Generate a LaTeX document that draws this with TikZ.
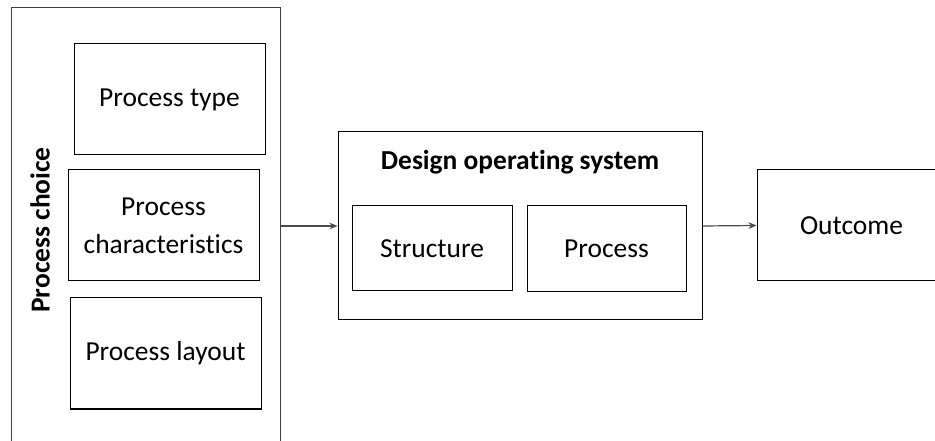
\documentclass[tikz,border=0pt]{standalone}
\usepackage{fontspec}
\setmainfont{Carlito}[Ligatures={NoCommon}]
\usetikzlibrary{arrows.meta}

\tikzset{
  box/.style={draw, rectangle, line width=0.75pt, align=center, inner sep=0pt,
    font=\fontsize{20.6}{28.5}\selectfont},
  link/.style={draw=black!70, line width=0.9pt, -{Stealth[length=6pt,width=5pt]}}
}

\begin{document}
\begin{tikzpicture}[x=0.75pt, y=-0.75pt]
        \clip (0,0) rectangle (935,441);

        % Nodi
        \node[box, draw=black!75, minimum width=269*0.75pt, minimum height=452*0.75pt] (choice) at (145.5,234) {};
        \node[font=\fontsize{20.6}{24}\selectfont\bfseries, rotate=90] (choicelabel) at (40,230) {Process choice};
        \node[box, minimum width=191*0.75pt, minimum height=111*0.75pt] (type) at (169.5,99.5) {Process type};
        \node[box, minimum width=191*0.75pt, minimum height=111*0.75pt] (char) at (163.5,225.5) {Process\\characteristics};
        \node[box, minimum width=191*0.75pt, minimum height=111*0.75pt] (layout) at (165.5,353.5) {Process layout};

        \node[box, minimum width=364*0.75pt, minimum height=188*0.75pt] (design) at (520,226) {};
        \node[font=\fontsize{20.6}{24}\selectfont\bfseries] (designlabel) at (520,162) {Design operating system};
        \node[box, minimum width=160*0.75pt, minimum height=85*0.75pt] (structure) at (432,248.5) {Structure};
        \node[box, minimum width=159*0.75pt, minimum height=86*0.75pt] (process) at (606.5,249) {Process};

        \node[box, minimum width=189*0.75pt, minimum height=111*0.75pt] (outcome) at (851.5,225.5) {Outcome};

        % Frecce
        \draw[link] (choice.east |- design.west) -- (design.west);
        \draw[link] (design.east) -- (outcome.west);
\end{tikzpicture}
\end{document}
